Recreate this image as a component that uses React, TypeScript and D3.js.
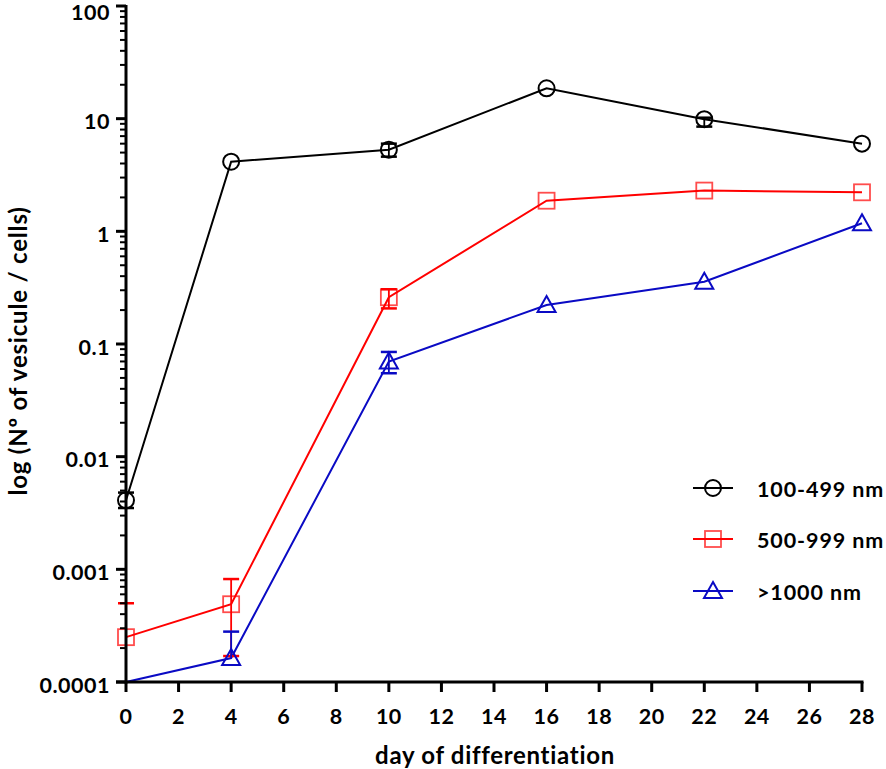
import { scaleLinear, scaleLog, line } from "d3";
import { useEffect } from "react";

// days of differentiation
const days = [0, 4, 10, 16, 22, 28];

const seriesNames = ["100-499 nm", "500-999 nm", ">1000 nm"];

// mean values
const small = [0.0041, 4.15, 5.3, 18.6, 9.9, 6.0];
const medium = [0.00025, 0.00049, 0.26, 1.87, 2.3, 2.22];
const large = [0.0001, 0.000163, 0.07, 0.222, 0.357, 1.18];

// error bars [low, high], null where there is none
const smallErr: ([number, number] | null)[] = [
  [0.0035, 0.0048], null, [4.6, 6.0], null, [8.5, 10.2], null,
];
const mediumErr: ([number, number] | null)[] = [
  [0.00025, 0.0005], [0.00017, 0.00082], [0.207, 0.306], null, null, null,
];
const largeErr: ([number, number] | null)[] = [
  null, [0.000163, 0.00028], [0.055, 0.085], null, null, null,
];

const xTicks = [0, 2, 4, 6, 8, 10, 12, 14, 16, 18, 20, 22, 24, 26, 28];
const yTicks = [0.0001, 0.001, 0.01, 0.1, 1, 10, 100];
const yTickLabels = ["0.0001", "0.001", "0.01", "0.1", "1", "10", "100"];

const W = 886;
const H = 769;
const FONT = "Lato, 'Open Sans', sans-serif";

type Shape = "circle" | "square" | "triangle";

const Marker = ({ x, y, shape, color }: { x: number; y: number; shape: Shape; color: string }) => {
  if (shape === "circle")
    return <circle cx={x} cy={y} r={8} fill="none" stroke={color} strokeWidth={2} />;
  if (shape === "square")
    return (
      <rect x={x - 8} y={y - 8} width={16} height={16} fill="none" stroke={color} strokeWidth={1.8} opacity={0.7} />
    );
  return (
    <path d={`M${x},${y - 9}L${x + 9},${y + 7}L${x - 9},${y + 7}Z`} fill="none" stroke={color} strokeWidth={2} />
  );
};

export default function App() {
  useEffect(() => {
    document.body.style.margin = "0";
  }, []);

  const x = scaleLinear().domain([0, 28]).range([126, 862]);
  const y = scaleLog().domain([0.0001, 100]).range([682, 6]);

  const series = [
    { name: seriesNames[0], values: small, err: smallErr, color: "#000000", shape: "circle" as Shape },
    { name: seriesNames[1], values: medium, err: mediumErr, color: "#ff0000", shape: "square" as Shape },
    { name: seriesNames[2], values: large, err: largeErr, color: "#0a0ac4", shape: "triangle" as Shape },
  ];

  const lineGen = line<number>()
    .x((_, i) => x(days[i]))
    .y((d) => y(d));

  const minorTicks: number[] = [];
  for (let e = -4; e < 2; e++) {
    for (let k = 2; k <= 9; k++) minorTicks.push(k * Math.pow(10, e));
  }

  const legendY = [488, 539, 591];

  return (
    <svg width={W} height={H} style={{ display: "block" }} fontFamily={FONT}>
      <rect width={W} height={H} fill="#fff" />

      {/* series lines */}
      {series.map((s) => (
        <path key={s.name} d={lineGen(s.values) ?? ""} fill="none" stroke={s.color} strokeWidth={2} />
      ))}

      {/* error bars */}
      {series.map((s) =>
        s.err.map((e, i) =>
          e ? (
            <g key={s.name + i} stroke={s.color} strokeWidth={1.8}>
              <line x1={x(days[i])} x2={x(days[i])} y1={y(e[0])} y2={y(e[1])} />
              {e[1] > s.values[i] && (
                <line x1={x(days[i]) - 8} x2={x(days[i]) + 8} y1={y(e[1])} y2={y(e[1])} strokeWidth={2.5} />
              )}
              {e[0] < s.values[i] && (
                <line x1={x(days[i]) - 8} x2={x(days[i]) + 8} y1={y(e[0])} y2={y(e[0])} strokeWidth={2.5} />
              )}
            </g>
          ) : null
        )
      )}

      {/* markers (points on the axis floor are hidden) */}
      {series.map((s) =>
        s.values.map((v, i) =>
          v > 0.0001 ? (
            <Marker key={s.name + "m" + i} x={x(days[i])} y={y(v)} shape={s.shape} color={s.color} />
          ) : null
        )
      )}

      {/* y axis */}
      <line x1={126} x2={126} y1={y(100) - 1} y2={y(0.0001) + 1.5} stroke="#000" strokeWidth={3} />
      {minorTicks.map((t) => (
        <line key={"mt" + t} x1={120} x2={126} y1={y(t)} y2={y(t)} stroke="#000" strokeWidth={2} />
      ))}
      {yTicks.map((t, i) => (
        <g key={"yt" + t}>
          <line x1={116} x2={126} y1={y(t)} y2={y(t)} stroke="#000" strokeWidth={3} />
          <text
            x={110}
            y={Math.max(y(t) + 2.5, 11.5)}
            textAnchor="end"
            dominantBaseline="central"
            fontSize={21.5}
            fontWeight={700}
            letterSpacing={0.5}
          >
            {yTickLabels[i]}
          </text>
        </g>
      ))}

      {/* x axis */}
      <line x1={116} x2={863.5} y1={682} y2={682} stroke="#000" strokeWidth={3} />
      {xTicks.map((t) => (
        <g key={"xt" + t}>
          <line x1={x(t)} x2={x(t)} y1={682} y2={692} stroke="#000" strokeWidth={3} />
          <text
            x={x(t)}
            y={716}
            textAnchor="middle"
            dominantBaseline="central"
            fontSize={21.5}
            fontWeight={700}
            letterSpacing={0.5}
          >
            {t}
          </text>
        </g>
      ))}

      {/* axis titles */}
      <text x={495} y={764} textAnchor="middle" fontSize={24} fontWeight={700} letterSpacing={0.7}>
        day of differentiation
      </text>
      <text
        transform={`translate(27,${351}) rotate(-90)`}
        textAnchor="middle"
        fontSize={24}
        fontWeight={700}
        letterSpacing={0.8}
      >
        log (Nº of vesicule / cells)
      </text>

      {/* legend */}
      {series.map((s, i) => (
        <g key={"lg" + i}>
          <line x1={693} x2={733} y1={legendY[i]} y2={legendY[i]} stroke={s.color} strokeWidth={2} />
          <Marker x={713} y={legendY[i]} shape={s.shape} color={s.color} />
          <text
            x={757}
            y={legendY[i] + 1}
            dominantBaseline="central"
            fontSize={21.5}
            fontWeight={700}
            letterSpacing={0.9}
          >
            {s.name}
          </text>
        </g>
      ))}
    </svg>
  );
}
